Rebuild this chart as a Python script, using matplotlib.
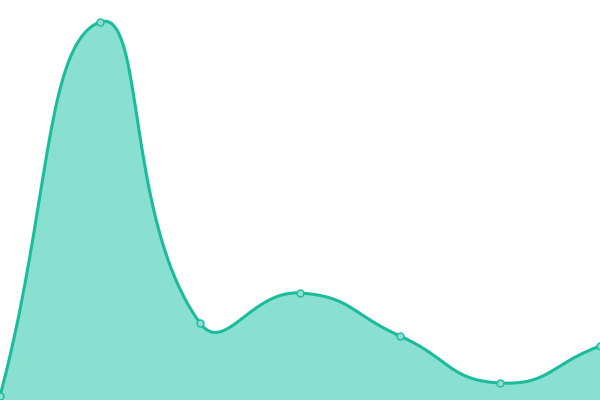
import numpy as np
import matplotlib
matplotlib.use("Agg")
import matplotlib.pyplot as plt

# values (height above the bottom edge, 0..400)
categories = ["A", "B", "C", "D", "E", "F", "G"]
values = [4, 378, 77, 107, 64, 17, 54]

line_color = "#1abc9c"
fill_color = "#8ae0d0"


def smooth_curve(xs, ys, smooth=0.5, n=40):
    # bezier smoothing like echarts' "smooth: true"
    pts = np.column_stack([xs, ys]).astype(float)
    k = len(pts)
    cps = []
    for i in range(k):
        p = pts[i]
        prev = pts[i - 1] if i > 0 else p
        nxt = pts[i + 1] if i < k - 1 else p
        v = nxt - prev
        d0 = np.hypot(*(p - prev))
        d1 = np.hypot(*(nxt - p))
        ratio = d0 / (d0 + d1) if d0 + d1 > 0 else 0.5
        cps.append((p - v * smooth * ratio, p + v * smooth * (1 - ratio)))
    out = [pts[0]]
    t = np.linspace(0, 1, n)[1:, None]
    for i in range(k - 1):
        p0, p3 = pts[i], pts[i + 1]
        c1, c2 = cps[i][1], cps[i + 1][0]
        seg = ((1 - t) ** 3) * p0 + 3 * ((1 - t) ** 2) * t * c1 + 3 * (1 - t) * t ** 2 * c2 + t ** 3 * p3
        out.extend(seg)
    out = np.array(out)
    return out[:, 0], out[:, 1]


fig = plt.figure(figsize=(6, 4), dpi=100)
ax = fig.add_axes([0, 0, 1, 1])

x = np.arange(len(categories)) * 100.0
cx, cy = smooth_curve(x, values)

ax.fill_between(cx, cy, 0, color=fill_color, lw=0, zorder=1)
ax.plot(cx, cy, color=line_color, lw=2.2, zorder=2, solid_capstyle="round")
ax.plot(x, values, "o", ms=5, mfc=fill_color, mec=line_color, mew=1, zorder=3, clip_on=False)

ax.set_xlim(0, 600)
ax.set_ylim(0, 400)
ax.axis("off")

fig.savefig("out.png", dpi=100)
